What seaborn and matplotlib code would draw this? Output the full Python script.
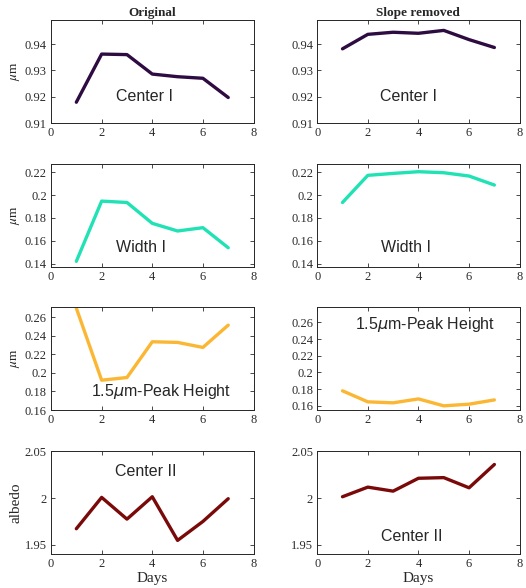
import pandas as pd
import matplotlib
matplotlib.use("Agg")
import matplotlib.pyplot as plt
import seaborn as sns

# 数据
days = [1, 2, 3, 4, 5, 6, 7]

center1_orig = [0.9179, 0.9362, 0.9360, 0.9286, 0.9276, 0.9270, 0.9197]
center1_slope = [0.9382, 0.9437, 0.9445, 0.9441, 0.9452, 0.9417, 0.9387]

width1_orig = [0.142, 0.1948, 0.1936, 0.1753, 0.1686, 0.1715, 0.1539]
width1_slope = [0.1936, 0.2174, 0.2191, 0.2206, 0.2197, 0.2168, 0.2089]

peak_orig = [0.2697, 0.1921, 0.1950, 0.2335, 0.2328, 0.2274, 0.2514]
peak_slope = [0.1780, 0.1648, 0.1636, 0.1683, 0.1600, 0.1620, 0.1671]

center2_orig = [1.9671, 2.0007, 1.9774, 2.0014, 1.9546, 1.9749, 1.9993]
center2_slope = [2.0014, 2.0117, 2.0074, 2.0212, 2.0219, 2.0110, 2.0360]

col_titles = ["Original", "Slope removed"]
row_labels = ["Center I", "Width I", "1.5$\\mu$m-Peak Height", "Center II"]
row_ylabels = ["$\\mu$m", "$\\mu$m", "$\\mu$m", "albedo"]
row_colors = ["#2e0c42", "#20e2b4", "#fbb733", "#7a0a0a"]

series = [
    (center1_orig, center1_slope),
    (width1_orig, width1_slope),
    (peak_orig, peak_slope),
    (center2_orig, center2_slope),
]

# 每个子图的 y 范围与刻度
ylims = [
    [(0.91, 0.949), (0.91, 0.949)],
    [(0.137, 0.227), (0.137, 0.227)],
    [(0.16, 0.2705), (0.155, 0.278)],
    [(1.94, 2.05), (1.94, 2.05)],
]
yticks = [
    [0.91, 0.92, 0.93, 0.94],
    [0.14, 0.16, 0.18, 0.2, 0.22],
    [0.16, 0.18, 0.2, 0.22, 0.24, 0.26],
    [1.95, 2.0, 2.05],
]
ytick_labels = [
    ["0.91", "0.92", "0.93", "0.94"],
    ["0.14", "0.16", "0.18", "0.2", "0.22"],
    ["0.16", "0.18", "0.2", "0.22", "0.24", "0.26"],
    ["1.95", "2", "2.05"],
]
# 标注文字位置 (x, y)
text_pos = [
    [(3.68, 0.92), (3.6, 0.92)],
    [(3.55, 0.1545), (3.5, 0.1545)],
    [(4.34, 0.18), (4.28, 0.258)],
    [(3.75, 2.028), (3.74, 1.959)],
]

sns.set_style("ticks")
plt.rcParams['font.family'] = ['Liberation Serif', 'DejaVu Serif']
plt.rcParams['mathtext.fontset'] = 'stix'

fig = plt.figure(figsize=(5.26, 5.88), dpi=100)

lefts = [0.097, 0.603]
width = 0.385
bottoms = [0.7908, 0.5459, 0.3027, 0.0578]
height = 0.1745

for r in range(4):
    for c in range(2):
        ax = fig.add_axes([lefts[c], bottoms[r], width, height])
        df = pd.DataFrame({"day": days, "val": series[r][c]})
        sns.lineplot(data=df, x="day", y="val", ax=ax, color=row_colors[r],
                     linewidth=2.4)
        ax.set_xlim(0, 8)
        ax.set_ylim(*ylims[r][c])
        ax.set_xticks([0, 2, 4, 6, 8])
        ax.set_yticks(yticks[r])
        ax.set_yticklabels(ytick_labels[r])
        ax.tick_params(direction='in', length=3, width=0.6, labelsize=9,
                       colors='#2b2b2b', top=True, right=True, pad=3)
        for sp in ax.spines.values():
            sp.set_visible(True)
            sp.set_linewidth(0.7)
            sp.set_color('#262626')
        ax.set_xlabel("")
        ax.set_ylabel("")
        if c == 0:
            ax.set_ylabel(row_ylabels[r], fontsize=9.5 if r < 3 else 11,
                          labelpad=2)
        if r == 0:
            ax.set_title(col_titles[c], fontsize=9.5, fontweight='bold', pad=3)
        if r == 3:
            ax.set_xlabel("Days", fontsize=11, labelpad=1)
        tx, ty = text_pos[r][c]
        ax.text(tx, ty, row_labels[r], ha='center', va='center',
                fontsize=11.5, family=['Liberation Sans', 'DejaVu Sans'],
                math_fontfamily='dejavusans')

fig.savefig("out.png", dpi=100)
